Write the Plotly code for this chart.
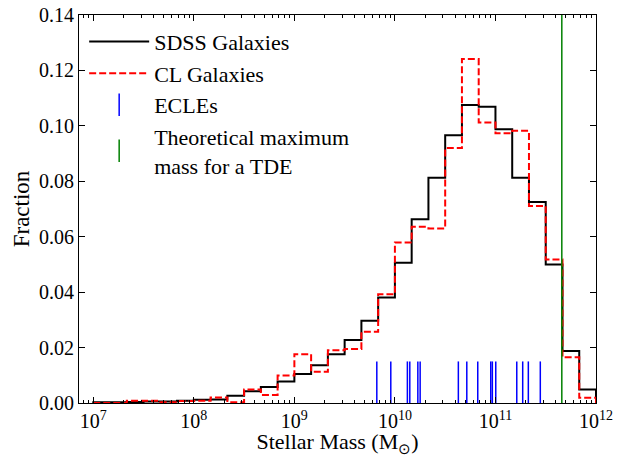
import numpy as np
import plotly.graph_objects as go

# Histogram bins: 30 bins, 1/6 dex wide, from 10^7 to 10^12 Msun (log10 edges)
bin_edges_log = np.linspace(7.0, 12.0, 31)

sdss_fraction = [0.0003, 0.0003, 0.0004, 0.0005, 0.0005, 0.0008, 0.0012, 0.0013,
                 0.0026, 0.0042, 0.0058, 0.0078, 0.0105, 0.0136, 0.0176, 0.0227,
                 0.0297, 0.0381, 0.0506, 0.0663, 0.0813, 0.0966, 0.1075, 0.1069,
                 0.0988, 0.0813, 0.0725, 0.0500, 0.0188, 0.0049]

cl_fraction = [0.0, 0.0, 0.0008, 0.0008, 0.0003, 0.0007, 0.0008, 0.0020,
               0.0003, 0.0049, 0.0029, 0.0099, 0.0176, 0.0113, 0.0190, 0.0195,
               0.0257, 0.0392, 0.0579, 0.0636, 0.0630, 0.0920, 0.1241, 0.1012,
               0.0973, 0.0982, 0.0711, 0.0518, 0.0165, 0.0019]

ecle_log_mass = [9.820, 9.959, 10.124, 10.148, 10.228, 10.251, 10.631, 10.715,
                 10.824, 10.953, 10.969, 11.003, 11.212, 11.271, 11.327, 11.446]
ecle_marker_height = 0.015

tde_max_log_mass = 11.66

x_tick_exponents = [7, 8, 9, 10, 11, 12]
y_tick_values = [0.00, 0.02, 0.04, 0.06, 0.08, 0.10, 0.12, 0.14]

FONT = "Liberation Serif"


def step_path(edges_log, values):
    edges = 10 ** np.asarray(edges_log)
    xs = [edges[0]] + list(edges[:-1]) + [edges[-1]]
    ys = [0.0] + list(values) + [0.0]
    return xs, ys


fig = go.Figure()

xs, ys = step_path(bin_edges_log, sdss_fraction)
fig.add_trace(go.Scatter(x=xs, y=ys, mode="lines", line_shape="hv",
                         line=dict(color="black", width=2),
                         name="SDSS Galaxies"))

xs, ys = step_path(bin_edges_log, cl_fraction)
fig.add_trace(go.Scatter(x=xs, y=ys, mode="lines", line_shape="hv",
                         line=dict(color="red", width=2, dash="7px,3px"),
                         name="CL Galaxies"))

# ECLE markers (vertical ticks at the bottom)
ex, ey = [], []
for m in ecle_log_mass:
    ex += [10 ** m, 10 ** m, None]
    ey += [0, ecle_marker_height, None]
fig.add_trace(go.Scatter(x=ex, y=ey, mode="lines", line=dict(color="blue", width=1.5),
                         showlegend=False, legendgroup="ecle", hoverinfo="skip"))
fig.add_trace(go.Scatter(x=[None], y=[None], mode="markers", name="ECLEs",
                         legendgroup="ecle",
                         marker=dict(symbol="line-ns", size=30, color="blue",
                                     line=dict(color="blue", width=1.5))))

# Theoretical max TDE mass
fig.add_trace(go.Scatter(x=[10 ** tde_max_log_mass] * 2, y=[0, 0.14], mode="lines",
                         line=dict(color="green", width=1.5), showlegend=False,
                         legendgroup="tde", hoverinfo="skip"))
fig.add_trace(go.Scatter(x=[None], y=[None], mode="markers",
                         name="Theoretical maximum<br>mass for a TDE",
                         legendgroup="tde",
                         marker=dict(symbol="line-ns", size=30, color="green",
                                     line=dict(color="green", width=1.5))))

minor_vals = [d * 10 ** e for e in range(6, 12) for d in range(2, 10)]

# The page places the figure 8 px from the top-left corner (default body margin),
# so the figure is sized 8 px smaller to fit the 630x457 window.
fig.update_layout(
    template="none",
    width=622, height=449,
    margin=dict(l=71, r=34, t=7, b=54, autoexpand=False),
    paper_bgcolor="white", plot_bgcolor="white",
    font=dict(family=FONT, size=20, color="black"),
    showlegend=True,
    legend=dict(x=0.01, y=0.985, xanchor="left", yanchor="top",
                bgcolor="rgba(0,0,0,0)", font=dict(size=22, family=FONT),
                itemwidth=60, tracegroupgap=0, itemsizing="trace"),
)

fig.update_xaxes(
    type="log", range=[6.858, 12.0], automargin=True,
    tickmode="array", tickvals=[10 ** e for e in x_tick_exponents],
    ticktext=[f"10<sup>{e}</sup>" for e in x_tick_exponents],
    ticks="inside", ticklen=6, tickwidth=1, tickcolor="black",
    minor=dict(tickmode="array", tickvals=minor_vals, ticks="inside",
               ticklen=3, tickwidth=1, tickcolor="black", showgrid=False),
    showline=True, linecolor="black", linewidth=1, mirror="ticks",
    showgrid=False, zeroline=False, ticklabeloverflow="allow",
    title=dict(text="Stellar Mass (M<sub>⊙</sub>)", font=dict(size=22, family=FONT),
               standoff=7),
    tickfont=dict(size=20, family=FONT),
)

fig.update_yaxes(
    range=[0, 0.14], automargin=True, tickmode="array", tickvals=y_tick_values,
    ticktext=[f"{v:.2f}" for v in y_tick_values],
    ticks="inside", ticklen=6, tickwidth=1, tickcolor="black",
    showline=True, linecolor="black", linewidth=1, mirror="ticks",
    showgrid=False, zeroline=False, ticklabeloverflow="allow",
    title=dict(text="Fraction", font=dict(size=23, family=FONT), standoff=2),
    tickfont=dict(size=20, family=FONT),
)

fig.write_html("out.html")
